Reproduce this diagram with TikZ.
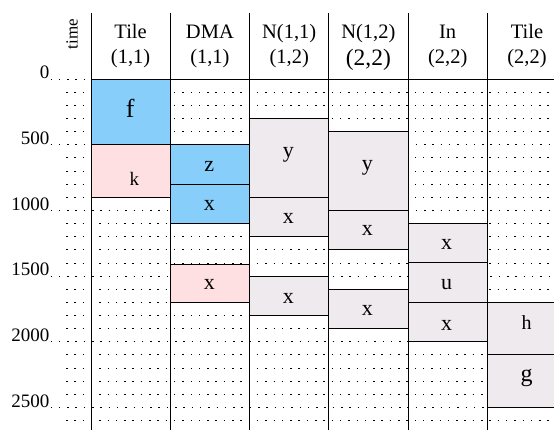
\documentclass[tikz,border=0pt]{standalone}
\usepackage{fontspec}
\setmainfont{Liberation Serif}
\definecolor{cblue}{RGB}{135,206,250}
\definecolor{cpink}{RGB}{255,224,226}
\definecolor{cgrey}{RGB}{238,234,238}
\begin{document}
\begin{tikzpicture}[x=1pt,y=-1pt,
  declare function={ty(\t)=79+0.131333*\t;},
  gridline/.style={line width=0.6pt, dash pattern=on 1.5pt off 6.8pt},
  colline/.style={line width=0.9pt},
  blk/.style={draw=black, line width=0.9pt},
  lab/.style={font=\fontsize{22}{22}\selectfont, inner sep=0pt},
  hd/.style={font=\fontsize{20.5}{20.5}\selectfont, anchor=base, inner sep=0pt},
  tlab/.style={font=\fontsize{19}{19}\selectfont, anchor=base east, inner sep=0pt}]
\useasboundingbox (0,0) rectangle (554,430);
% time axis labels and grid
\node[rotate=90, font=\fontsize{17}{17}\selectfont, inner sep=0pt] (time) at (72,34) {time};
\foreach \t in {0,500,1000,1500,2000,2500}{
  \node[tlab] (t\t) at (49.5,{ty(\t)}) {\t};
  \draw[gridline] (t\t.base east) ++(1,0) -- (554,{ty(\t)});
}
\foreach \t in {100,200,300,400,600,700,800,900,1100,1200,1300,1400,1600,1700,1800,1900,2100,2200,2300,2400,2600}{
  \draw[gridline] (66,{ty(\t)}) -- (554,{ty(\t)});
}
% blocks: Tile (1,1)
\filldraw[blk, fill=cblue] (91,{ty(0)}) rectangle (170.3,{ty(500)});
\filldraw[blk, fill=cpink] (91,{ty(500)}) rectangle (170.3,{ty(900)});
% DMA (1,1)
\filldraw[blk, fill=cblue] (170.3,{ty(500)}) rectangle (249.5,{ty(800)});
\filldraw[blk, fill=cblue] (170.3,{ty(800)}) rectangle (249.5,{ty(1100)});
\filldraw[blk, fill=cpink] (170.3,{ty(1410)}) rectangle (249.5,{ty(1700)});
% N(1,1)
\filldraw[blk, fill=cgrey] (249.5,{ty(300)}) rectangle (328.8,{ty(900)});
\filldraw[blk, fill=cgrey] (249.5,{ty(900)}) rectangle (328.8,{ty(1200)});
\filldraw[blk, fill=cgrey] (249.5,{ty(1500)}) rectangle (328.8,{ty(1800)});
% N(1,2)
\filldraw[blk, fill=cgrey] (328.8,{ty(400)}) rectangle (408,{ty(1000)});
\filldraw[blk, fill=cgrey] (328.8,{ty(1000)}) rectangle (408,{ty(1300)});
\filldraw[blk, fill=cgrey] (328.8,{ty(1600)}) rectangle (408,{ty(1900)});
% In (2,2)
\filldraw[blk, fill=cgrey] (408,{ty(1100)}) rectangle (487.3,{ty(1400)});
\filldraw[blk, fill=cgrey] (408,{ty(1400)}) rectangle (487.3,{ty(1700)});
\filldraw[blk, fill=cgrey] (408,{ty(1700)}) rectangle (487.3,{ty(2000)});
% Tile (2,2)
\filldraw[blk, fill=cgrey] (487.3,{ty(1700)}) rectangle (570,{ty(2100)});
\filldraw[blk, fill=cgrey] (487.3,{ty(2100)}) rectangle (570,{ty(2500)});
% header rule
\draw[line width=0.9pt] (91,{ty(0)}) -- (554,{ty(0)});
% column lines
\foreach \x in {91,170.3,249.5,328.8,408,487.3}{
  \draw[colline] (\x,13) -- (\x,430);
}
% headers
\node[hd] (h1a) at (130.6,39) {Tile};
\node[hd] (h1b) at (130.6,64) {(1,1)};
\node[hd] (h2a) at (209.9,39) {DMA};
\node[hd] (h2b) at (209.9,64) {(1,1)};
\node[hd] (h3a) at (289.2,39) {N(1,1)};
\node[hd] (h3b) at (289.2,64) {(1,2)};
\node[hd] (h4a) at (368.4,39) {N(1,2)};
\node[hd, font=\fontsize{23.5}{23.5}\selectfont] (h4b) at (368.4,66) {(2,2)};
\node[hd] (h5a) at (447.7,39) {In};
\node[hd] (h5b) at (447.7,64) {(2,2)};
\node[hd] (h6a) at (527,39) {Tile};
\node[hd] (h6b) at (527,64) {(2,2)};
% block labels
\node[lab, font=\fontsize{26}{26}\selectfont] (f) at (130.3,108.3) {f};
\node[lab, font=\fontsize{19}{19}\selectfont] (k) at (134.3,178.5) {k};
\node[lab] (z) at (209.3,166.3) {z};
\node[lab] (x1) at (209.3,205.8) {x};
\node[lab] (x2) at (209.3,284.7) {x};
\node[lab] (y1) at (288.3,154.7) {y};
\node[lab] (x3) at (288.3,218.3) {x};
\node[lab] (x4) at (288.3,298) {x};
\node[lab] (y2) at (367.3,167.8) {y};
\node[lab] (x5) at (367.3,230.8) {x};
\node[lab] (x6) at (367.3,310.8) {x};
\node[lab] (x7) at (446.7,244.2) {x};
\node[lab] (u) at (446.7,285) {u};
\node[lab] (x8) at (446.7,325.5) {x};
\node[lab, font=\fontsize{20}{20}\selectfont] (h) at (526.7,322.7) {h};
\node[lab, font=\fontsize{24}{24}\selectfont] (g) at (526.7,378) {g};
\end{tikzpicture}
\end{document}
